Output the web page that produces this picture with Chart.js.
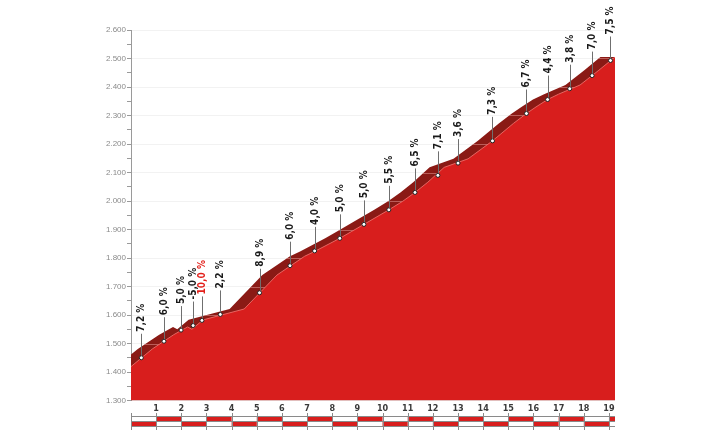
<!DOCTYPE html>
<html><head><meta charset="utf-8">
<script src="https://cdn.jsdelivr.net/npm/chart.js@4"></script>
<style>html,body{margin:0;padding:0;background:#fff}#wrap{width:728px;height:445px;position:relative}</style>
</head><body><div id="wrap"><canvas id="c" width="728" height="445"></canvas></div>
<script>
// Profile (front face) vertices: km, elevation (m)
const profileKm   = [0.00, 0.85, 1.70, 2.25, 2.42, 2.87, 4.50, 5.80, 6.90, 7.30, 8.30, 8.75, 9.26, 10.25, 10.80, 11.29, 11.80, 12.45, 13.40, 14.37, 15.20, 15.72, 16.10, 16.56, 17.00, 17.85, 18.60, 19.24];
const profileElev = [1419, 1481, 1531, 1558, 1550, 1583, 1621, 1740, 1806, 1823, 1869, 1892, 1918, 1969, 1999, 2030, 2066, 2118, 2148, 2211, 2272, 2307, 2330, 2356, 2375, 2407, 2459, 2505];
// Gradient markers
const gradeKm     = [0.41, 1.31, 1.99, 2.47, 2.82, 3.55, 5.11, 6.32, 7.30, 8.30, 9.26, 10.25, 11.29, 12.20, 13.00, 14.37, 15.72, 16.56, 17.44, 18.33, 19.06];
const gradeElev   = [1450, 1508, 1547, 1563, 1581, 1602, 1678, 1773, 1825, 1869, 1918, 1969, 2030, 2090, 2133, 2211, 2307, 2356, 2394, 2440, 2493];
const gradeLabels = ['7,2 %','6,0 %','5,0 %','-5,0 %','10,0 %','2,2 %','8,9 %','6,0 %','4,0 %','5,0 %','5,0 %','5,5 %','6,5 %','7,1 %','3,6 %','7,3 %','6,7 %','4,4 %','3,8 %','7,0 %','7,5 %'];
const gradeHighlight = [false,false,false,false,true,false,false,false,false,false,false,false,false,false,false,false,false,false,false,false,false];
const kmTicks   = [1,2,3,4,5,6,7,8,9,10,11,12,13,14,15,16,17,18,19];
const elevTicks = [1300,1350,1400,1450,1500,1550,1600,1650,1700,1750,1800,1850,1900,1950,2000,2050,2100,2150,2200,2250,2300,2350,2400,2450,2500,2550,2600];

const RED = '#d81e1d', DARK = '#8a1a15';
const SHIFT = 0.58; // 3D depth of the top face, in km
const kmMax = profileKm[profileKm.length - 1];

const frontPts = profileKm.map((k, i) => ({x: k, y: profileElev[i]}));
const darkPts = profileKm.map((k, i) => ({x: k - SHIFT, y: profileElev[i]}));
darkPts.push({x: kmMax, y: profileElev[profileElev.length - 1]});
const markerPts = gradeKm.map((k, i) => ({x: k, y: gradeElev[i]}));

const fmt = v => { const s = String(v); return s.length > 3 ? s.slice(0, s.length - 3) + '.' + s.slice(-3) : s; };

const decor = {
  id: 'decor',
  afterDatasetDraw(chart, args) {
    if (args.index !== 0) return;
    const {ctx, chartArea: a, scales: {y}} = chart;
    const pts = chart.getDatasetMeta(0).data;
    ctx.save();
    ctx.beginPath(); ctx.rect(a.left, a.top, a.right - a.left, a.bottom - a.top); ctx.clip();
    ctx.beginPath();
    ctx.moveTo(pts[0].x, a.bottom);
    pts.forEach(p => ctx.lineTo(p.x, p.y));
    ctx.lineTo(pts[pts.length - 1].x, a.bottom);
    ctx.closePath(); ctx.clip();
    ctx.strokeStyle = 'rgba(225,150,145,0.55)'; ctx.lineWidth = 1;
    elevTicks.filter(v => v % 100 === 0).forEach(v => {
      const py = Math.round(y.getPixelForValue(v)) + 0.5;
      ctx.beginPath(); ctx.moveTo(a.left, py); ctx.lineTo(a.right, py); ctx.stroke();
    });
    ctx.restore();
  },
  afterDatasetsDraw(chart) {
    const {ctx, scales: {x, y}} = chart;
    ctx.save();
    gradeKm.forEach((k, i) => {
      const px = Math.round(x.getPixelForValue(k)) + 0.5;
      const py = y.getPixelForValue(gradeElev[i]);
      ctx.strokeStyle = '#6f6f6f'; ctx.lineWidth = 1;
      ctx.beginPath(); ctx.moveTo(px, py - 2); ctx.lineTo(px, py - 24); ctx.stroke();
      ctx.save();
      ctx.translate(px, py - 26);
      ctx.rotate(-Math.PI / 2);
      ctx.font = 'bold 10px "Liberation Sans Narrow", "DejaVu Sans Condensed", sans-serif';
      ctx.fillStyle = gradeHighlight[i] ? '#e3201b' : '#1a1a1a';
      ctx.textAlign = 'left'; ctx.textBaseline = 'middle';
      ctx.fillText(gradeLabels[i], 0, 0);
      ctx.restore();
    });
    ctx.restore();
  },
  afterDraw(chart) {
    const {ctx, scales: {x}} = chart;
    const y1 = 416.5, y2 = 421.5, y3 = 426.5;
    const x0 = x.getPixelForValue(0), xe = x.getPixelForValue(kmMax);
    ctx.save();
    const segs = [0].concat(kmTicks);
    segs.forEach((k, i) => {
      const a = x.getPixelForValue(k), b = x.getPixelForValue(Math.min(k + 1, kmMax));
      ctx.fillStyle = RED;
      if (i % 2 === 1) ctx.fillRect(a, y1, b - a, y2 - y1);
      else ctx.fillRect(a, y2, b - a, y3 - y2);
    });
    ctx.strokeStyle = '#8a8a8a'; ctx.lineWidth = 1;
    [y1, y2, y3].forEach(yy => { ctx.beginPath(); ctx.moveTo(x0, yy); ctx.lineTo(xe, yy); ctx.stroke(); });
    segs.forEach(k => {
      const px = Math.round(x.getPixelForValue(k)) + 0.5;
      ctx.beginPath(); ctx.moveTo(px, 413); ctx.lineTo(px, 430); ctx.stroke();
    });
    ctx.restore();
  }
};

new Chart(document.getElementById('c'), {
  type: 'line',
  data: {
    datasets: [
      {data: darkPts, fill: 'start', backgroundColor: DARK, borderWidth: 0, pointRadius: 0, tension: 0, order: 3},
      {data: frontPts, fill: 'start', backgroundColor: RED, borderColor: 'rgba(236,110,105,0.9)', borderWidth: 1, pointRadius: 0, tension: 0, order: 2},
      {data: markerPts, showLine: false, pointRadius: 2, pointBorderWidth: 1, pointBackgroundColor: '#ffffff', pointBorderColor: '#222222', order: 1}
    ]
  },
  options: {
    responsive: false, animation: false, devicePixelRatio: 1,
    layout: {padding: {left: 0, right: 113, top: 30, bottom: 0}},
    plugins: {legend: {display: false}, tooltip: {enabled: false}},
    scales: {
      x: {
        type: 'linear', min: 0, max: kmMax,
        afterBuildTicks: s => { s.ticks = kmTicks.map(v => ({value: v})); },
        afterFit: s => { s.height = 44.5; },
        grid: {display: false, drawTicks: false, tickLength: 0}, border: {display: false},
        ticks: {autoSkip: false, maxRotation: 0, padding: 3, color: '#3a3a3a',
                font: {family: '"Liberation Sans Narrow", "DejaVu Sans Condensed", sans-serif', size: 9, weight: 'bold'}}
      },
      y: {
        type: 'linear', min: 1300, max: 2600,
        afterBuildTicks: s => { s.ticks = elevTicks.map(v => ({value: v})); },
        afterFit: s => { s.width = 131; },
        grid: {color: c => (c.tick && c.tick.value % 100 === 0) ? '#f2f2f2' : 'rgba(0,0,0,0)', tickColor: '#9a9a9a', tickLength: 4},
        border: {color: '#9a9a9a', width: 1},
        ticks: {autoSkip: false, padding: 1, color: '#8a8a8a', callback: v => v % 100 === 0 ? fmt(v) : '',
                font: {family: '"Liberation Sans", Arial, sans-serif', size: 8}}
      }
    }
  },
  plugins: [decor]
});
</script></body></html>
